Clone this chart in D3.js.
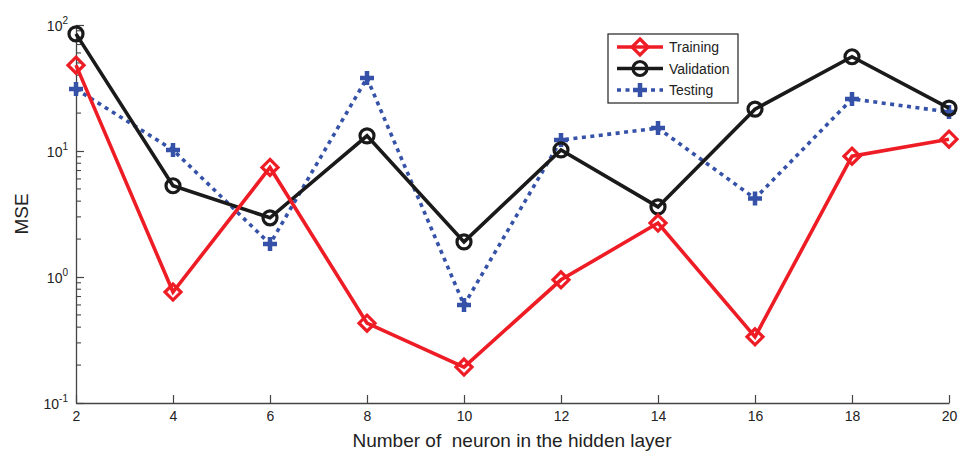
<!DOCTYPE html>
<html>
<head>
<meta charset="utf-8">
<script src="https://cdn.jsdelivr.net/npm/d3@7"></script>
<style>
  body { margin: 0; background: #fff; }
  svg text { font-family: "Liberation Sans", Arial, sans-serif; fill: #222; }
</style>
</head>
<body>
<div id="chart"></div>
<script>
// --- data ---
const neurons = [2, 4, 6, 8, 10, 12, 14, 16, 18, 20];
const training   = [48, 0.76, 7.4, 0.43, 0.193, 0.95, 2.68, 0.335, 9.1, 12.4];
const validation = [85, 5.3, 2.95, 13.2, 1.9, 10.2, 3.6, 21.5, 56, 21.9];
const testing    = [31, 10.2, 1.83, 38, 0.6, 12.2, 15.2, 4.2, 25.9, 20.4];
const xTicks = [2, 4, 6, 8, 10, 12, 14, 16, 18, 20];
const yDecades = [-1, 0, 1, 2];

const W = 959, H = 455;
const m = { left: 76, right: 10, top: 25, bottom: 52 };

const svg = d3.select('#chart').append('svg')
    .attr('width', W).attr('height', H);

const x = d3.scaleLinear().domain([2, 20]).range([m.left, W - m.right]);
const y = d3.scaleLog().domain([0.1, 100]).range([H - m.bottom, m.top]);

const axisColor = '#444';

// --- axes (MATLAB style: ticks pointing inward) ---
const xAxis = svg.append('g')
    .attr('transform', `translate(0,${H - m.bottom})`)
    .call(d3.axisBottom(x).tickValues(xTicks).tickSizeInner(-8).tickSizeOuter(0).tickFormat(d3.format('d')));
xAxis.select('.domain').attr('stroke', axisColor).attr('stroke-width', 1.3);
xAxis.selectAll('.tick line').attr('stroke', axisColor).attr('stroke-width', 1.2);
xAxis.selectAll('.tick text').attr('font-size', 14).attr('dy', '1.1em');

const minorVals = [];
yDecades.slice(0, -1).forEach(e => {
  for (let k = 2; k <= 9; k++) minorVals.push(k * Math.pow(10, e));
});

const yAxis = svg.append('g')
    .attr('transform', `translate(${m.left},0)`)
    .call(d3.axisLeft(y).tickValues(yDecades.map(e => Math.pow(10, e))).tickSizeInner(-8).tickSizeOuter(0).tickFormat(''));
yAxis.select('.domain').attr('stroke', axisColor).attr('stroke-width', 1.3);
yAxis.selectAll('.tick line').attr('stroke', axisColor).attr('stroke-width', 1.2);

svg.append('g').selectAll('line').data(minorVals).join('line')
    .attr('x1', m.left).attr('x2', m.left + 5)
    .attr('y1', d => y(d)).attr('y2', d => y(d))
    .attr('stroke', axisColor).attr('stroke-width', 1.1);

// decade labels 10^n
const yl = svg.append('g').selectAll('text').data(yDecades).join('text')
    .attr('x', m.left - 8).attr('y', d => y(Math.pow(10, d)) + 6)
    .attr('text-anchor', 'end').attr('font-size', 14);
yl.append('tspan').text('10');
yl.append('tspan').attr('dy', -7).attr('font-size', 10).text(d => d);

// axis titles
svg.append('text')
    .attr('x', 512).attr('y', 447)
    .attr('text-anchor', 'middle').attr('font-size', 19)
    .attr('xml:space', 'preserve')
    .text('Number of  neuron in the hidden layer');
svg.append('text')
    .attr('transform', `translate(28,${y(Math.sqrt(10))}) rotate(-90)`)
    .attr('text-anchor', 'middle').attr('font-size', 19)
    .text('MSE');

// --- series ---
const series = [
  { name: 'Training', values: training, color: '#ee1c24', dash: null, marker: 'diamond' },
  { name: 'Validation', values: validation, color: '#1a1a1a', dash: null, marker: 'circle' },
  { name: 'Testing', values: testing, color: '#3552a8', dash: '4,4.5', marker: 'plus' }
];

const line = d3.line().x(d => x(d[0])).y(d => y(d[1]));

function drawMarker(g, type, color) {
  if (type === 'diamond') {
    g.append('path').attr('d', 'M0,-8L8,0L0,8L-8,0Z')
      .attr('fill', 'none').attr('stroke', color).attr('stroke-width', 3.2);
  } else if (type === 'circle') {
    g.append('circle').attr('r', 7)
      .attr('fill', 'none').attr('stroke', color).attr('stroke-width', 3.2);
  } else {
    g.append('path').attr('d', 'M-7,0H7M0,-7V7')
      .attr('stroke', color).attr('stroke-width', 4.5);
  }
}

// testing underneath, training on top
[series[2], series[1], series[0]].forEach(s => {
  const pts = neurons.map((n, i) => [n, s.values[i]]);
  svg.append('path').datum(pts)
    .attr('d', line)
    .attr('fill', 'none')
    .attr('stroke', s.color)
    .attr('stroke-width', 3.6)
    .attr('stroke-dasharray', s.dash);
  pts.forEach(p => {
    const g = svg.append('g').attr('transform', `translate(${x(p[0])},${y(p[1])})`);
    drawMarker(g, s.marker, s.color);
  });
});

// --- legend ---
const lg = svg.append('g').attr('transform', 'translate(608,34)');
lg.append('rect').attr('width', 130).attr('height', 69)
  .attr('fill', '#fff').attr('stroke', '#222').attr('stroke-width', 1.2);
series.forEach((s, i) => {
  const yy = 13 + i * 21.5;
  lg.append('line').attr('x1', 9).attr('x2', 55).attr('y1', yy).attr('y2', yy)
    .attr('stroke', s.color).attr('stroke-width', 3.6).attr('stroke-dasharray', s.dash);
  const g = lg.append('g').attr('transform', `translate(32,${yy})`);
  drawMarker(g, s.marker, s.color);
  lg.append('text').attr('x', 61).attr('y', yy + 5).attr('font-size', 14).text(s.name);
});
</script>
</body>
</html>
